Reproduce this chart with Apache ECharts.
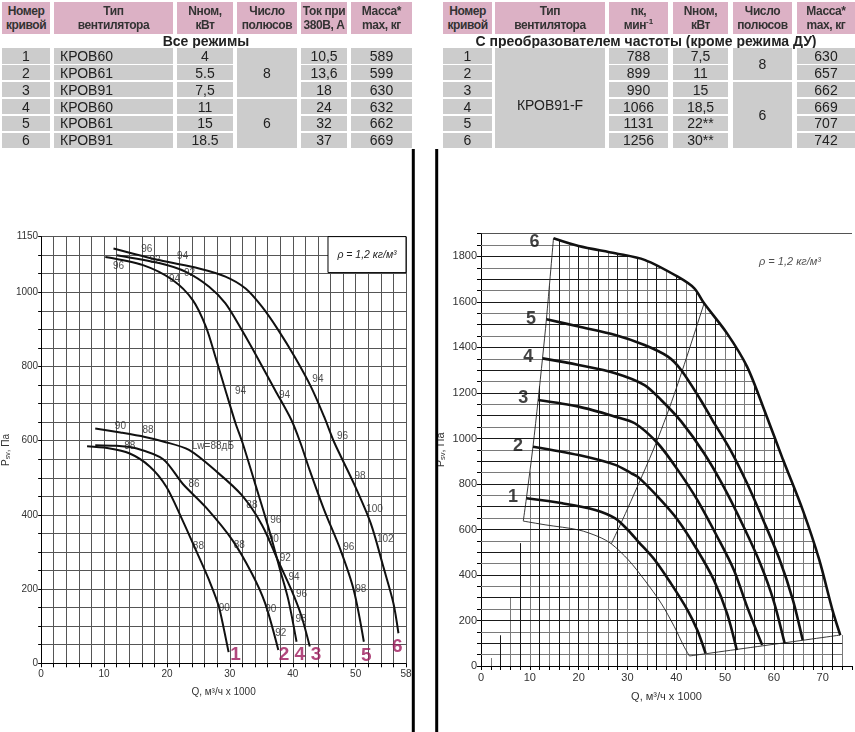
<!DOCTYPE html>
<html>
<head>
<meta charset="utf-8">
<script src="https://cdn.jsdelivr.net/npm/echarts@6/dist/echarts.min.js"></script>
<style>
body { margin: 0; background: #fff; }
#wrap { position: relative; width: 855px; height: 732px; overflow: hidden; font-family: 'Liberation Sans', Arial, sans-serif; }
#chart { position: absolute; left: 0; top: 0; width: 855px; height: 732px; }
.c { position: absolute; display: flex; align-items: center; justify-content: center; text-align: center; box-sizing: border-box; color: #222; white-space: nowrap; z-index: 2; }
.h { background: #dcb1c5; font-weight: bold; font-size: 12px; line-height: 14px; letter-spacing: -0.4px; color: #333; }
.d { background: #cccccc; font-size: 14px; }
.t { font-weight: bold; font-size: 14px; color: #222; }
.l { justify-content: flex-start; padding-left: 6px; }
sup { font-size: 8px; line-height: 0; vertical-align: 5px; letter-spacing: 0; }
</style>
</head>
<body>
<div id="wrap"><div id="chart"></div></div>
<script>
// ---- таблицы ----
var leftHeader = ['Номер<br>кривой', 'Тип<br>вентилятора', 'Nном,<br>кВт', 'Число<br>полюсов', 'Ток при<br>380В, А', 'Масса*<br>max, кг'];
var leftNo = ['1', '2', '3', '4', '5', '6'];
var leftType = ['КРОВ60', 'КРОВ61', 'КРОВ91', 'КРОВ60', 'КРОВ61', 'КРОВ91'];
var leftPower = ['4', '5.5', '7,5', '11', '15', '18.5'];
var leftPoles = ['8', '6'];
var leftCurrent = ['10,5', '13,6', '18', '24', '32', '37'];
var leftMass = ['589', '599', '630', '632', '662', '669'];

var rightHeader = ['Номер<br>кривой', 'Тип<br>вентилятора', 'nк,<br>мин<sup>-1</sup>', 'Nном,<br>кВт', 'Число<br>полюсов', 'Масса*<br>max, кг'];
var rightType = 'КРОВ91-F';
var rightSpeed = ['788', '899', '990', '1066', '1131', '1256'];
var rightPower = ['7,5', '11', '15', '18,5', '22**', '30**'];
var rightPoles = ['8', '6'];
var rightMass = ['630', '657', '662', '669', '707', '742'];

var leftTitle = 'Все режимы';
var rightTitle = 'С преобразователем частоты (кроме режима ДУ)';

// ---- левый график: все режимы ----
var leftC1 = [[7.3,585],[10.5,580],[14,566],[17.3,530],[19.9,476],[22.3,392],[24.6,305],[26.7,224],[28.3,150],[29.8,30]];
var leftC2 = [[8.6,588],[12,586],[15.2,579],[19.4,550],[22.5,484],[26.2,420],[30.4,332],[33.5,242],[35.6,162],[37.7,36]];
var leftC3 = [[8.6,633],[12.6,622],[16.5,610],[19.4,598],[23.5,575],[28,515],[31.9,453],[35.1,373],[37.7,275],[39.8,197],[41.4,126],[42.7,45]];
var leftC4 = [[10.2,1095],[16.2,1073],[20.9,1033],[24.1,979],[26.2,907],[27.7,826],[29.3,736],[30.9,647],[32,595],[34,485],[36.1,368],[38,251],[39.3,171],[40.6,58]];
var leftC5 = [[12,1100],[18.9,1078],[23,1055],[26.7,1015],[29.3,970],[31.9,898],[34.6,817],[37.2,736],[39.8,655],[41.2,595],[42.7,520],[45,413],[47.6,305],[49.7,197],[51.3,58]];
var leftC6 = [[11.5,1118],[18.9,1086],[25.1,1064],[29.3,1042],[32.5,1010],[35.1,961],[37.7,898],[40.3,826],[42.9,745],[45,664],[46.6,595],[49.7,485],[52.4,377],[54.4,260],[56,162],[56.8,81]];
var leftNoise = [
  [16.8,1116,'96'],[18.1,1087,'92'],[22.5,1096,'94'],[12.3,1069,'96'],[23.6,1052,'92'],[21.2,1034,'94'],
  [44,765,'94'],[31.7,732,'94'],[38.7,723,'94'],[47.9,611,'96'],[12.6,638,'90'],[17,629,'88'],
  [14.1,585,'88'],[27.3,586,'Lw=88дБ'],[24.3,482,'86'],[33.5,425,'88'],[37.3,386,'96'],[36.9,334,'90'],
  [38.8,282,'92'],[40.2,233,'94'],[41.4,186,'96'],[41.3,119,'98'],[25,316,'88'],[31.5,318,'88'],
  [29.1,148,'90'],[36.5,145,'90'],[38.1,82,'92'],[48.9,312,'96'],[50.8,200,'98'],[50.7,505,'98'],
  [53,415,'100'],[54.7,335,'102']
];
var leftNumbers = [[30.9,22,'1'],[38.6,24,'2'],[41.1,24,'4'],[43.7,24,'3'],[51.7,20,'5'],[56.6,44,'6']];
var leftDensity = [[45.6,1150],[58,1053]];

// ---- правый график: с преобразователем частоты ----
var rightC1 = [[9.3,737],[16.7,715],[23.4,686],[27.5,649],[30,600],[32.2,547],[35.6,466],[38.9,363],[42.3,246],[44.3,158],[46,56]];
var rightC2 = [[10.65,964],[20,927],[27.5,884],[30.8,847],[32.2,830],[36.2,744],[40.3,642],[44.3,510],[47.7,378],[50.4,231],[52.4,70]];
var rightC3 = [[11.7,1169],[20,1140],[27.5,1096],[31.5,1067],[36.2,979],[40.3,862],[44.3,730],[48.4,568],[51.8,422],[54.5,261],[57.6,92]];
var rightC4 = [[12.6,1352],[20,1323],[27.5,1287],[33.5,1235],[36.9,1169],[41,1075],[45.7,935],[49.7,788],[53.8,612],[57.2,451],[59.9,290],[62.2,100]];
var rightC5 = [[13.4,1524],[20,1492],[27.5,1455],[33.5,1411],[38.3,1360],[41,1301],[45,1169],[47.4,1081],[51.1,949],[54.5,803],[57.8,642],[61.2,466],[63.9,290],[65.9,114]];
var rightC6 = [[14.85,1880],[20,1846],[27.5,1814],[33.5,1785],[40.3,1711],[43.7,1660],[45.7,1594],[50.4,1462],[54.5,1316],[58.3,1110],[61.9,905],[65.9,686],[69.3,466],[72,246],[73.6,136]];
var rightMin = [[8.66,637],[13.3,620],[20,598],[24.1,568],[26.7,537],[30.2,466],[33.5,378],[36.9,276],[39.6,173],[41.6,85],[42.7,44]];
var rightEdge = [[8.66,637],[9.3,737],[10.65,964],[11.7,1169],[12.6,1352],[13.4,1524],[14.85,1880]];
var rightDiag = [[26.7,537],[30,690],[35.9,982],[40,1220],[45.7,1594]];
var rightBottom = [[42.7,44],[73.6,136]];
var rightStubs = [[0,0],[2,35],[4,135],[6,300],[8,540]];
var rightNumbers = [[12.3,1862,'6'],[11.6,1525,'5'],[11,1360,'4'],[10,1177,'3'],[8.9,967,'2'],[7.9,744,'1']];

// ---- разметка таблиц ----
var wrap = document.getElementById('wrap');
function cell(x, y, w, h, html, cls) {
  var d = document.createElement('div');
  d.className = 'c ' + cls;
  d.style.left = x + 'px'; d.style.top = y + 'px';
  d.style.width = w + 'px'; d.style.height = h + 'px';
  d.innerHTML = '<span>' + html + '</span>';
  wrap.appendChild(d);
}
var rowH = 15.3;
function rowTop(i) { return 48.3 + i * 16.88; }

var lc = [[2,48],[54,119],[177,56],[237,60],[301,46],[351,61]];
leftHeader.forEach(function (t, i) { cell(lc[i][0], 2, lc[i][1], 31.5, t, 'h'); });
cell(0, 34, 412, 14, leftTitle, 't');
for (var i = 0; i < 6; i++) {
  var y = rowTop(i);
  cell(lc[0][0], y, lc[0][1], rowH, leftNo[i], 'd');
  cell(lc[1][0], y, lc[1][1], rowH, leftType[i], 'd l');
  cell(lc[2][0], y, lc[2][1], rowH, leftPower[i], 'd');
  cell(lc[4][0], y, lc[4][1], rowH, leftCurrent[i], 'd');
  cell(lc[5][0], y, lc[5][1], rowH, leftMass[i], 'd');
}
cell(lc[3][0], rowTop(0), lc[3][1], rowTop(2) + rowH - rowTop(0), leftPoles[0], 'd');
cell(lc[3][0], rowTop(3), lc[3][1], rowTop(5) + rowH - rowTop(3), leftPoles[1], 'd');

var rc = [[443,49],[495,110],[609,59],[673,55],[733,59],[797,58]];
rightHeader.forEach(function (t, i) { cell(rc[i][0], 2, rc[i][1], 31.5, t, 'h'); });
cell(437, 34, 418, 14, rightTitle, 't');
for (var j = 0; j < 6; j++) {
  var yy = rowTop(j);
  cell(rc[0][0], yy, rc[0][1], rowH, leftNo[j], 'd');
  cell(rc[2][0], yy, rc[2][1], rowH, rightSpeed[j], 'd');
  cell(rc[3][0], yy, rc[3][1], rowH, rightPower[j], 'd');
  cell(rc[5][0], yy, rc[5][1], rowH, rightMass[j], 'd');
}
cell(rc[1][0], rowTop(0), rc[1][1], rowTop(5) + rowH - rowTop(0), '', 'd');
cell(rc[1][0], rowTop(3) - 2, rc[1][1], rowH, rightType, 'd');
cell(rc[4][0], rowTop(0), rc[4][1], rowTop(1) + rowH - rowTop(0), rightPoles[0], 'd');
cell(rc[4][0], rowTop(2), rc[4][1], rowTop(5) + rowH - rowTop(2), rightPoles[1], 'd');

// ---- сетка правого графика (только внутри рабочей области) ----
function interp(poly, x) {
  if (x <= poly[0][0]) return poly[0][1];
  for (var i = 1; i < poly.length; i++) {
    if (x <= poly[i][0]) {
      var a = poly[i - 1], b = poly[i];
      return a[1] + (b[1] - a[1]) * (x - a[0]) / (b[0] - a[0]);
    }
  }
  return poly[poly.length - 1][1];
}
function crossX(poly, y) {
  for (var i = 1; i < poly.length; i++) {
    var a = poly[i - 1], b = poly[i];
    if (y <= a[1] && y >= b[1]) return a[0] + (b[0] - a[0]) * (a[1] - y) / (a[1] - b[1]);
  }
  return null;
}
var envTop = rightStubs.concat(rightEdge).concat(rightC6.slice(1));
var gridMajor = [], gridMinor = [];
for (var q = 2; q <= 74; q += 2) {
  (q % 4 === 0 ? gridMajor : gridMinor).push({ coords: [[q, 0], [q, interp(envTop, q)]] });
}
for (var p = 50; p < 1900; p += 50) {
  var end = p <= rightC6[rightC6.length - 1][1] ? 74 : crossX(rightC6, p);
  if (end === null) continue;
  (p % 100 === 0 ? gridMajor : gridMinor).push({ coords: [[0, p], [end, p]] });
}
gridMajor.push({ coords: [[0, 1900], [76, 1900]] });

// ---- ECharts ----
var myChart = echarts.init(document.getElementById('chart'));
var font = 'Liberation Sans';

function curve(data, xi, w, color) {
  return {
    type: 'line', xAxisIndex: xi, yAxisIndex: xi, data: data,
    smooth: 0.3, symbol: 'none', silent: true, z: 3,
    lineStyle: { color: color || '#111', width: w }
  };
}
function textSeries(data, xi, style) {
  return {
    type: 'scatter', xAxisIndex: xi, yAxisIndex: xi, data: data, silent: true, z: 5,
    symbolSize: 1, itemStyle: { color: 'rgba(0,0,0,0)' },
    label: Object.assign({ show: true, position: 'inside', formatter: function (o) { return o.value[2]; } }, style)
  };
}
function axisLab(fn, size, margin) {
  return { fontSize: size, color: '#333', fontFamily: font, margin: margin, formatter: fn };
}
var yName = '{a|P}{b|sv}{a|, Па}';

var option = {
  animation: false,
  backgroundColor: '#fff',
  grid: [
    { left: 36.7, top: 236.6, width: 369.3, height: 426.7 },
    { left: 481, top: 233.7, width: 374, height: 432.3 }
  ],
  xAxis: [
    {
      gridIndex: 0, type: 'value', min: 0, max: 58, interval: 2,
      name: 'Q, м³/ч x 1000', nameLocation: 'middle', nameGap: 24,
      nameTextStyle: { fontSize: 10, color: '#333', fontFamily: font },
      axisLine: { lineStyle: { color: '#000', width: 1 } },
      axisTick: { length: 4, lineStyle: { color: '#000' } },
      axisLabel: axisLab(function (v) { return (v % 10 === 0 || v === 58) ? v : ''; }, 10, 6),
      splitLine: { show: true, lineStyle: { color: '#555', width: 1 } }
    },
    {
      gridIndex: 1, type: 'value', min: 0, max: 76, interval: 2,
      name: 'Q, м³/ч x 1000', nameLocation: 'middle', nameGap: 25,
      nameTextStyle: { fontSize: 11, color: '#333', fontFamily: font },
      axisLine: { lineStyle: { color: '#000', width: 1 } },
      axisTick: { length: 4, lineStyle: { color: '#000' } },
      axisLabel: axisLab(function (v) { return (v % 10 === 0 && v <= 70) ? v : ''; }, 11, 6),
      splitLine: { show: false }
    }
  ],
  yAxis: [
    {
      gridIndex: 0, type: 'value', min: 0, max: 1150, interval: 50,
      name: yName, nameLocation: 'middle', nameGap: 22, nameRotate: 90,
      nameTextStyle: { rich: { a: { fontSize: 10, color: '#333', fontFamily: font }, b: { fontSize: 7, color: '#333', fontFamily: font, padding: [5, 0, 0, 0] } } },
      axisLine: { lineStyle: { color: '#000', width: 1 } },
      axisTick: { length: 3, lineStyle: { color: '#000' } },
      axisLabel: axisLab(function (v) { return (v % 200 === 0 || v === 1150) ? v : ''; }, 10, 3),
      splitLine: { show: true, lineStyle: { color: '#555', width: 1 } }
    },
    {
      gridIndex: 1, type: 'value', min: 0, max: 1900, interval: 50,
      name: yName, nameLocation: 'middle', nameGap: 34, nameRotate: 90,
      nameTextStyle: { rich: { a: { fontSize: 11, color: '#333', fontFamily: font }, b: { fontSize: 7.5, color: '#333', fontFamily: font, padding: [5, 0, 0, 0] } } },
      axisLine: { lineStyle: { color: '#000', width: 1 } },
      axisTick: { length: 4, lineStyle: { color: '#000' } },
      axisLabel: axisLab(function (v) { return (v % 200 === 0 && v <= 1800) ? v : ''; }, 11, 4),
      splitLine: { show: false }
    }
  ],
  graphic: [
    { type: 'line', shape: { x1: 413.3, y1: 149, x2: 413.3, y2: 732 }, style: { stroke: '#000', lineWidth: 3 }, z: 10 },
    { type: 'line', shape: { x1: 436.7, y1: 149, x2: 436.7, y2: 732 }, style: { stroke: '#000', lineWidth: 3 }, z: 10 }
  ],
  series: [
    // левый график
    Object.assign(curve(leftC1, 0, 2), {
      markArea: {
        silent: true,
        itemStyle: { color: '#fff', borderColor: '#000', borderWidth: 1 },
        label: { show: true, position: 'inside', formatter: 'ρ = 1,2 кг/м³', fontStyle: 'italic', fontSize: 10.5, color: '#222', fontFamily: font },
        data: [[{ coord: leftDensity[0] }, { coord: leftDensity[1] }]]
      }
    }),
    curve(leftC2, 0, 2),
    curve(leftC3, 0, 2),
    curve(leftC4, 0, 2),
    curve(leftC5, 0, 2),
    curve(leftC6, 0, 2),
    textSeries(leftNoise, 0, { fontSize: 10, color: '#222', fontFamily: font, letterSpacing: -0.5 }),
    textSeries(leftNumbers, 0, { fontSize: 19, fontWeight: 'bold', color: '#9e1a5c', fontFamily: font }),
    // правый график
    {
      type: 'lines', coordinateSystem: 'cartesian2d', xAxisIndex: 1, yAxisIndex: 1, silent: true, z: 1,
      data: gridMinor, lineStyle: { color: '#7a7a7a', width: 1, opacity: 1 }
    },
    {
      type: 'lines', coordinateSystem: 'cartesian2d', xAxisIndex: 1, yAxisIndex: 1, silent: true, z: 1,
      data: gridMajor, lineStyle: { color: '#1a1a1a', width: 1, opacity: 1 }
    },
    curve(rightMin, 1, 0.9, '#222'),
    curve(rightEdge, 1, 0.9, '#222'),
    curve(rightDiag, 1, 0.9, '#222'),
    curve(rightBottom, 1, 0.9, '#222'),
    curve(rightC1, 1, 2.6),
    curve(rightC2, 1, 2.6),
    curve(rightC3, 1, 2.6),
    curve(rightC4, 1, 2.6),
    curve(rightC5, 1, 2.6),
    curve(rightC6, 1, 2.6),
    textSeries(rightNumbers, 1, { position: 'left', distance: 1, fontSize: 18, fontWeight: 'bold', color: '#111', fontFamily: font }),
    textSeries([[63.3, 1776, 'ρ = 1,2 кг/м³']], 1, { fontSize: 11, fontStyle: 'italic', color: '#222', fontFamily: font })
  ]
};
myChart.setOption(option);
</script>
</body>
</html>
